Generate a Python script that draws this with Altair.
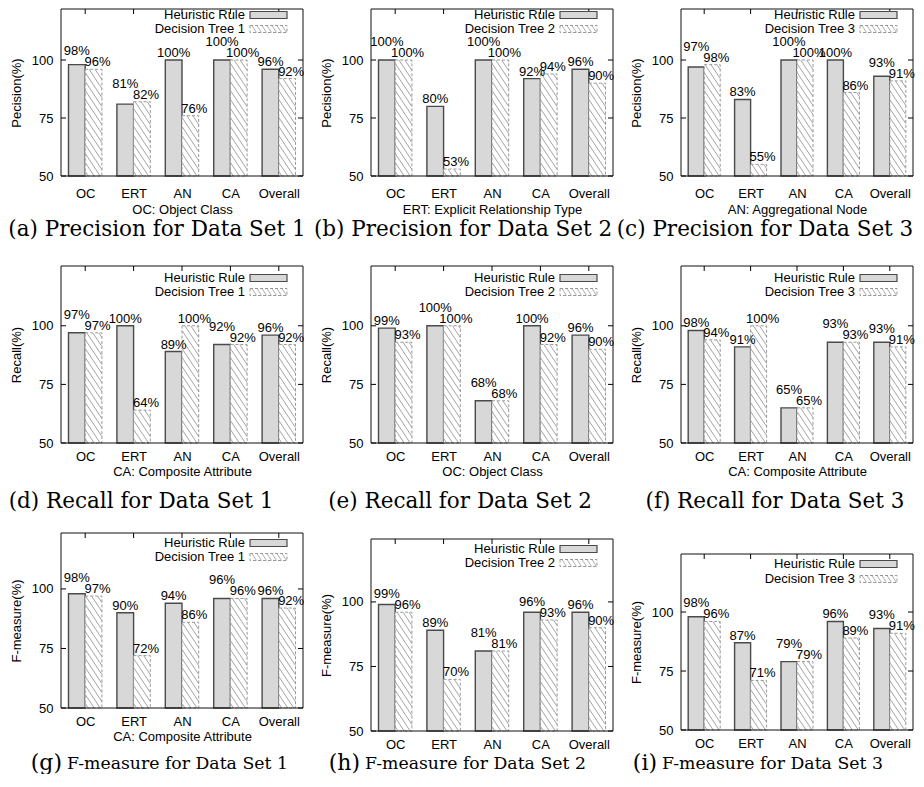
import altair as alt
import pandas as pd

# ---------------- data ----------------
categories = ["OC", "ERT", "AN", "CA", "Overall"]
rule_name = "Heuristic Rule"

prec_ds1_rule = [98, 81, 100, 100, 96]
prec_ds1_tree = [96, 82, 76, 100, 92]
prec_ds2_rule = [100, 80, 100, 92, 96]
prec_ds2_tree = [100, 53, 100, 94, 90]
prec_ds3_rule = [97, 83, 100, 100, 93]
prec_ds3_tree = [98, 55, 100, 86, 91]

rec_ds1_rule = [97, 100, 89, 92, 96]
rec_ds1_tree = [97, 64, 100, 92, 92]
rec_ds2_rule = [99, 100, 68, 100, 96]
rec_ds2_tree = [93, 100, 68, 92, 90]
rec_ds3_rule = [98, 91, 65, 93, 93]
rec_ds3_tree = [94, 100, 65, 93, 91]

f_ds1_rule = [98, 90, 94, 96, 96]
f_ds1_tree = [97, 72, 86, 96, 92]
f_ds2_rule = [99, 89, 81, 96, 96]
f_ds2_tree = [96, 70, 81, 93, 90]
f_ds3_rule = [98, 87, 79, 96, 93]
f_ds3_tree = [96, 71, 79, 89, 91]

y_ticks = [50, 75, 100]

# ---------------- style ----------------
FONT = "Liberation Sans"
SERIF = "DejaVu Serif"
BW = 0.345          # bar width in category units
GRAY_FILL = "#d8d8d8"
GRAY_STROKE = "#4a4a4a"
HATCH = "#8c8c8c"
HATCH_SPACING = 9.0  # px
HATCH_SLOPE = 1.5

label_expr = "[" + ",".join("'%s'" % c for c in categories) + "][datum.value - 1]"


def hatch_segments(xs, vals, W, H, ytop):
    pxx = W / 5.0
    pxy = H / (ytop - 50.0)
    rows = []
    for x0, v in zip(xs, vals):
        w = BW * pxx
        hp = (v - 50.0) * pxy
        b = HATCH_SPACING / 2.0
        while b < hp + HATCH_SLOPE * w:
            us = max(0.0, (b - hp) / HATCH_SLOPE)
            ue = min(w, b / HATCH_SLOPE)
            if ue > us:
                rows.append({
                    "hx0": x0 + us / pxx, "hy0": 50.0 + (b - HATCH_SLOPE * us) / pxy,
                    "hx1": x0 + ue / pxx, "hy1": 50.0 + (b - HATCH_SLOPE * ue) / pxy,
                })
            b += HATCH_SPACING
    return pd.DataFrame(rows)


def const():
    return alt.Chart(pd.DataFrame({"k": [0]}))


def panel(rule_vals, tree_vals, tree_name, ytitle, xtitle, caption, g):
    W, H, ytop, ft = g["W"], g["H"], g["ytop"], g.get("ft", 0)
    pos = list(range(1, len(categories) + 1))
    xs = alt.Scale(domain=[0.5, 5.5], nice=False, zero=False)
    ys = alt.Scale(domain=[50, ytop], nice=False, zero=False)

    rule_df = pd.DataFrame({
        "x0": [p - BW for p in pos], "x1": pos, "base": 50, "v": rule_vals,
        "xc": [p - BW / 2 for p in pos],
        "lab": ["%d%%" % v for v in rule_vals],
        "tv": tree_vals,
    })
    rule_df["lifted"] = [(-1 <= r - t <= 3) for r, t in zip(rule_vals, tree_vals)]
    tree_df = pd.DataFrame({
        "x0": pos, "x1": [p + BW for p in pos], "base": 50, "v": tree_vals,
        "xc": [p + BW / 2 for p in pos],
        "lab": ["%d%%" % v for v in tree_vals],
    })
    hatch_df = hatch_segments(pos, tree_vals, W, H, ytop)

    if xtitle:
        xaxis = alt.Axis(values=pos, labelExpr=label_expr, labelPadding=g["lp"],
                         titlePadding=g["tp"], title=xtitle)
    else:
        xaxis = alt.Axis(values=pos, labelExpr=label_expr, labelPadding=g["lp"], title="")
    yaxis = alt.Axis(values=y_ticks, labelPadding=8, titlePadding=8, title=ytitle,
                     titleY=(ft + H) / 2.0)

    def X(f):
        return alt.X(f, scale=xs, axis=xaxis)

    def Y(f):
        return alt.Y(f, scale=ys, axis=yaxis)

    layers = []
    if g.get("corner"):
        layers.append(const().mark_rect(fill="white", strokeWidth=0).encode(
            x=alt.value(-g["corner"]), x2=alt.value(-g["corner"] + 1),
            y=alt.value(ft + 40), y2=alt.value(ft + 41)))

    gray = alt.Chart(rule_df).mark_rect(fill=GRAY_FILL, stroke=GRAY_STROKE, strokeWidth=1.4).encode(
        x=X("x0:Q"), x2="x1:Q", y=Y("base:Q"), y2="v:Q")

    hbar = alt.Chart(tree_df).mark_rect(fill="white", stroke="none").encode(
        x=X("x0:Q"), x2="x1:Q", y=Y("base:Q"), y2="v:Q")

    hlines = alt.Chart(hatch_df).mark_rule(stroke=HATCH, strokeWidth=0.8).encode(
        x=X("hx0:Q"), x2="hx1:Q", y=Y("hy0:Q"), y2="hy1:Q")

    hout = alt.Chart(tree_df).mark_rect(fill="transparent", stroke="#9a9a9a",
                                        strokeDash=[3, 2], strokeWidth=1).encode(
        x=X("x0:Q"), x2="x1:Q", y=Y("base:Q"), y2="v:Q")

    frame = const().mark_rect(fill="transparent", stroke="#111111", strokeWidth=1).encode(
        x=alt.value(0), x2=alt.value(W), y=alt.value(ft), y2=alt.value(H))

    txt = dict(font=FONT, fontSize=13, color="black", baseline="alphabetic")
    lab_rule = alt.Chart(rule_df).transform_filter("!datum.lifted").mark_text(dy=-3, **txt).encode(
        x=X("xc:Q"), y=Y("v:Q"), text="lab:N")
    lab_rule_up = alt.Chart(rule_df).transform_filter("datum.lifted").mark_text(dy=-14, **txt).encode(
        x=X("xc:Q"), y=Y("tv:Q"), text="lab:N")
    lab_tree = alt.Chart(tree_df).mark_text(dy=-3, dx=4, **txt).encode(
        x=X("xc:Q"), y=Y("v:Q"), text="lab:N")

    tick_df = pd.DataFrame({"yt": y_ticks})
    lt = alt.Chart(tick_df).mark_rule(color="black", strokeWidth=1).encode(
        y=Y("yt:Q"), x=alt.value(0), x2=alt.value(5))
    rt = alt.Chart(tick_df).mark_rule(color="black", strokeWidth=1).encode(
        y=Y("yt:Q"), x=alt.value(W - 5), x2=alt.value(W))
    tt = alt.Chart(pd.DataFrame({"p": pos})).mark_rule(color="black", strokeWidth=1).encode(
        x=X("p:Q"), y=alt.value(ft), y2=alt.value(ft + 5))

    # legend (inside, top right)
    l1, l2 = ft + g["leg"][0], ft + g["leg"][1]
    leg_t1 = alt.Chart(pd.DataFrame({"t": [rule_name]})).mark_text(
        align="right", baseline="middle", font=FONT, fontSize=13, color="black").encode(
        x=alt.value(W - 58), y=alt.value(l1), text="t:N")
    leg_t2 = alt.Chart(pd.DataFrame({"t": [tree_name]})).mark_text(
        align="right", baseline="middle", font=FONT, fontSize=13, color="black").encode(
        x=alt.value(W - 58), y=alt.value(l2), text="t:N")
    sx0, sx1 = W - 53, W - 16
    leg_g = const().mark_rect(fill=GRAY_FILL, stroke=GRAY_STROKE, strokeWidth=1.2).encode(
        x=alt.value(sx0), x2=alt.value(sx1), y=alt.value(l1 - 3.5), y2=alt.value(l1 + 3.5))
    leg_h = const().mark_rect(fill="white", stroke="#9a9a9a", strokeDash=[3, 2], strokeWidth=1).encode(
        x=alt.value(sx0), x2=alt.value(sx1), y=alt.value(l2 - 3.5), y2=alt.value(l2 + 3.5))
    leg_lines = []
    k = sx0 + 2
    while k < sx1 - 1:
        leg_lines.append(const().mark_rule(stroke=HATCH, strokeWidth=0.7).encode(
            x=alt.value(k), x2=alt.value(min(k + 4.5, sx1)), y=alt.value(l2 - 3.5), y2=alt.value(l2 + 3.5)))
        k += 5

    caps = []
    for (t, cx, cy, align, size) in caption:
        caps.append(alt.Chart(pd.DataFrame({"t": [t]})).mark_text(
            font=SERIF, fontSize=size, align=align, baseline="middle", color="black").encode(
            x=alt.value(cx), y=alt.value(cy), text="t:N"))

    layers += [gray, hbar, hlines, hout, frame, lab_rule, lab_rule_up, lab_tree, lt, rt, tt,
               leg_t1, leg_t2, leg_g, leg_h] + leg_lines + caps
    return alt.layer(*layers).properties(width=W, height=H)


# geometry per panel
row1 = dict(H=167, ytop=122.0, leg=(6, 20), lp=11, tp=3)
row2 = dict(H=177, ytop=125.5, leg=(12, 26), lp=7, tp=2)
row3 = dict(lp=7, tp=2)
col1 = dict(W=242)
col2 = dict(W=242)
col3 = dict(W=232)
CAP = 21.5
CAP3 = 17.3

def geo(*parts, **kw):
    d = {}
    for p in parts:
        d.update(p)
    d.update(kw)
    return d

pa = panel(prec_ds1_rule, prec_ds1_tree, "Decision Tree 1", "Pecision(%)", "OC: Object Class",
           [("(a) Precision for Data Set 1", 96, 221, "center", CAP)], geo(row1, col1, corner=53))
pb = panel(prec_ds2_rule, prec_ds2_tree, "Decision Tree 2", "Pecision(%)", "ERT: Explicit Relationship Type",
           [("(b) Precision for Data Set 2", 92, 221, "center", CAP)], geo(row1, col2))
pc = panel(prec_ds3_rule, prec_ds3_tree, "Decision Tree 3", "Pecision(%)", "AN: Aggregational Node",
           [("(c) Precision for Data Set 3", 84, 221, "center", CAP)], geo(row1, col3))

pd_ = panel(rec_ds1_rule, rec_ds1_tree, "Decision Tree 1", "Recall(%)", "CA: Composite Attribute",
            [("(d) Recall for Data Set 1", 80, 236, "center", CAP)], geo(row2, col1))
pe = panel(rec_ds2_rule, rec_ds2_tree, "Decision Tree 2", "Recall(%)", "OC: Object Class",
           [("(e) Recall for Data Set 2", 89, 236, "center", CAP)], geo(row2, col2))
pf = panel(rec_ds3_rule, rec_ds3_tree, "Decision Tree 3", "Recall(%)", "CA: Composite Attribute",
           [("(f) Recall for Data Set 3", 94, 236, "center", CAP)], geo(row2, col3))

pg = panel(f_ds1_rule, f_ds1_tree, "Decision Tree 1", "F-measure(%)", "CA: Composite Attribute",
           [("(g)", 1, 230, "right", 22), ("F-measure for Data Set 1", 6, 231, "left", CAP3)],
           geo(row3, col1, H=175, ytop=123.5, leg=(10, 24)))
ph = panel(f_ds2_rule, f_ds2_tree, "Decision Tree 2", "F-measure(%)", None,
           [("(h)", -11, 230, "right", 22), ("F-measure for Data Set 2", -6, 231, "left", CAP3)],
           geo(row3, col2, H=198, ft=6, ytop=126.7, leg=(10, 24)))
pi = panel(f_ds3_rule, f_ds3_tree, "Decision Tree 3", "F-measure(%)", None,
           [("(i)", -24, 230, "right", 22), ("F-measure for Data Set 3", -19, 231, "left", CAP3)],
           geo(row3, col3, H=197, ft=21, ytop=133.5, leg=(10, 25)))

chart = alt.concat(
    pa, pb, pc, pd_, pe, pf, pg, ph, pi,
    columns=3, bounds="flush", align="each",
    spacing={"row": 90, "column": 68},
).properties(
    padding={"left": 0, "top": 0, "right": 0, "bottom": 0}, background="white"
).configure_view(
    strokeWidth=0, stroke=None
).configure_axis(
    labelFont=FONT, titleFont=FONT, labelFontSize=13, titleFontSize=13,
    titleFontWeight="normal", labelColor="black", titleColor="black",
    grid=False, ticks=False, domain=False
)

chart.save("out.html", embed_options={"renderer": "svg", "actions": False})
